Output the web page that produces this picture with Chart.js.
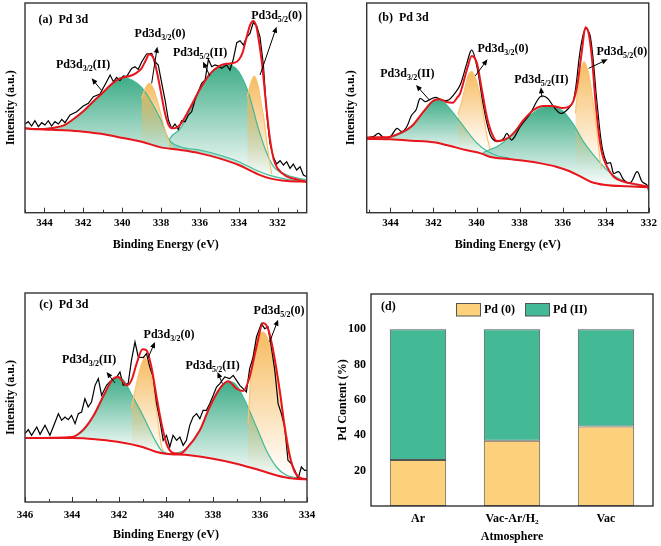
<!DOCTYPE html>
<html>
<head>
<meta charset="utf-8">
<script src="https://cdn.jsdelivr.net/npm/chart.js@4.4.1/dist/chart.umd.min.js"></script>
<style>
  html, body { margin: 0; padding: 0; background: #fff; }
  #wrap { position: relative; width: 661px; height: 546px; overflow: hidden; background: #fff; }
  canvas { position: absolute; }
</style>
</head>
<body>
<div id="wrap">
  <canvas id="chart-a" width="330" height="256" style="left:0;top:0"></canvas>
  <canvas id="chart-b" width="321" height="256" style="left:340px;top:0"></canvas>
  <canvas id="chart-c" width="330" height="276" style="left:0;top:270px"></canvas>
  <canvas id="chart-d" width="331" height="276" style="left:330px;top:270px"></canvas>
</div>
<script>
// ---- panel (a) ----
const aRawE = [345.00,344.83,344.66,344.49,344.31,344.14,343.97,343.80,343.63,343.46,343.28,343.11,342.94,342.68,342.34,342.00,341.74,341.48,341.14,340.80,340.62,340.45,340.28,340.11,339.94,339.77,339.51,339.34,339.17,338.99,338.74,338.48,338.31,338.14,337.96,337.79,337.62,337.45,337.28,337.11,336.94,336.76,336.59,336.42,336.25,336.08,335.91,335.73,335.56,335.39,335.22,335.05,334.88,334.62,334.45,334.28,334.10,333.93,333.76,333.59,333.42,333.25,333.07,332.90,332.73,332.56,332.39,332.22,332.05,331.87,331.70,331.53,331.36,331.19,331.02,330.84,330.67,330.50];
const aRawI = [266,273,260,276,258,270,263,276,260,273,266,280,270,293,303,320,328,348,356,393,413,393,406,396,410,408,433,438,430,453,476,478,453,443,388,338,278,253,266,250,276,273,293,303,338,363,388,398,460,438,443,440,433,443,428,460,510,516,503,526,538,570,560,526,443,298,208,168,146,156,143,153,133,146,128,138,113,108];
const aFitE = [345,344.5,344,343.5,343,342.5,342,341.5,341,340.5,340,339.6,339.3,339.0,338.8,338.6,338.4,338.2,338.0,337.8,337.6,337.4,337.2,337.0,336.5,336.0,335.5,335.0,334.6,334.2,334.0,333.8,333.6,333.4,333.25,333.1,333.0,332.8,332.6,332.4,332.2,332.0,331.5,331.0,330.5];
const aFitI = [253,251,251,255,262,281,304,333,360,388,405,410,418,433,455,475,465,420,360,300,262,253,255,265,315,370,415,440,447,450,458,480,525,565,575,560,530,448,330,225,160,133,108,100,93];
const aBgE = [345,344.3,343,342,341,340.3,339,338,337,336,335,334,333,332.4,331.5,330.5];
const aBgI = [253,250,247,243,236,228,213,196,188,178,163,143,115,103,95,93];
const aG1E = [344.3,343.5,343,342.5,342,341.5,341,340.5,340,339.5,339,338.5,338,337.6,337,336,335,334,333,332.4,331.5,330.5];
const aG1I = [251,255,262,281,304,333,360,388,406,398,376,333,278,220,198,188,173,153,125,112,100,93];
const aG2E = [337.6,337.5,337,336.5,336,335.5,335,334.7,334.4,334,333.5,333,332.6,332.2,331.5,330.5];
const aG2I = [215,226,253,308,368,413,441,446,443,423,360,255,185,138,113,98];
const aO1E = [339.0,338.8,338.6,338.4,338.2,338.0,337.8,337.6,337.45];
const aO1I = [343,374,388,373,338,293,248,215,195];
const aO2E = [333.56,333.4,333.2,333.0,332.85,332.7,332.55,332.4,332.3];
const aO2I = [348,385,410,380,330,280,210,150,115];

// ---- panel (b) ----
const bRawE = [345.10,344.79,344.56,344.32,344.01,343.70,343.47,343.24,343.01,342.81,342.62,342.39,342.15,341.88,341.61,341.30,341.07,340.76,340.45,340.22,339.98,339.67,339.36,339.05,338.74,338.59,338.36,337.97,337.50,337.04,336.73,336.42,336.11,335.80,335.49,335.18,334.94,334.71,334.40,334.17,333.94,333.78,333.63,333.39,333.16,332.85,332.54,332.31,332.08,332.00];
const bRawI = [226,228,238,226,228,253,243,258,293,308,343,333,340,346,338,338,353,383,448,488,438,318,233,213,223,238,218,258,298,348,345,318,298,308,338,488,553,528,328,198,148,150,118,123,98,90,123,93,83,63];
const bFitE = [345.1,344.5,344,343.5,343,342.5,342,341.7,341.4,341.1,340.9,340.76,340.45,340.22,339.98,339.75,339.52,339.29,339.05,338.74,338.28,337.81,337.35,336.88,336.5,336.0,335.7,335.5,335.33,335.1,334.94,334.79,334.63,334.48,334.32,334.17,333.94,333.63,333.16,332.54,332.0];
const bFitI = [225,226,228,240,260,300,336,340,332,330,345,358,428,470,448,368,288,238,215,218,238,278,308,320,320,314,318,335,378,488,556,538,458,338,238,178,138,108,93,85,78];
const bBgE = [345.1,344,343,342,341.4,340.5,339.8,339.4,338.5,337.8,337,336.3,335.7,335.3,334.7,334,333,332];
const bBgI = [221,220,216,211,203,188,178,168,161,156,148,138,125,113,93,83,79,76];
const bG1E = [344.5,344,343.5,343,342.5,342,341.85,341.5,341,340.5,340,339.5,339,338.5];
const bG1I = [223,226,238,258,300,336,341,330,293,250,210,184,170,164];
const bG2E = [339.7,339.5,339,338.5,338,337.5,337,336.6,336,335.5,335,334.5,334,333.5,333,332.5,332];
const bG2I = [180,186,200,225,261,293,314,320,305,265,210,168,132,106,90,82,78];
const bO1E = [340.87,340.7,340.55,340.4,340.22,340.0,339.8,339.6,339.45,339.36];
const bO1I = [293,330,370,410,423,395,340,262,210,190];
const bO2E = [335.41,335.26,335.1,335.0,334.9,334.79,334.56,334.4,334.28,334.2];
const bO2I = [298,388,440,453,440,418,318,238,168,130];

// ---- panel (c) ----
const cRawE = [346.00,345.86,345.72,345.50,345.36,345.15,344.94,344.80,344.58,344.44,344.30,344.16,344.02,343.87,343.73,343.59,343.45,343.31,343.17,343.02,342.88,342.74,342.53,342.32,342.10,341.96,341.82,341.61,341.47,341.32,341.18,340.97,340.83,340.69,340.55,340.40,340.26,340.12,339.98,339.84,339.70,339.55,339.41,339.27,339.13,338.99,338.85,338.70,338.56,338.42,338.28,338.14,337.99,337.85,337.71,337.50,337.29,337.14,337.00,336.86,336.72,336.58,336.44,336.29,336.15,335.94,335.80,335.66,335.52,335.37,335.23,335.09,334.95,334.81,334.67,334.52,334.38,334.24,334.10,334.00];
const cRawI = [205,217,200,225,203,230,200,225,265,245,255,247,260,235,265,270,310,285,300,350,370,320,350,365,375,390,350,355,425,480,435,433,445,405,375,295,245,185,200,165,200,185,195,170,185,230,255,265,250,275,275,295,320,345,355,375,370,380,365,350,340,330,400,435,495,535,520,525,465,395,295,265,225,125,115,95,70,105,95,95];
const cFitE = [346,344,343.52,343.1,342.67,342.25,342.03,341.82,341.68,341.47,341.25,341.0,340.83,340.62,340.4,340.19,339.98,339.7,339.41,339.13,338.56,338.14,337.71,337.36,337.0,336.72,336.44,336.15,335.87,335.66,335.44,335.16,334.95,334.74,334.52,334.31,334.0];
const cFitI = [192,195,217,257,317,370,375,360,350,365,415,458,455,405,315,235,175,147,145,160,215,285,340,362,340,333,375,465,537,520,455,335,225,140,90,73,68];
const cBgE = [346,345,344,343.5,343,342,341,340.4,340,339,338,337,336,335,334.5,334];
const cBgI = [192,192,192,191,188,180,165,150,145,140,130,115,95,75,70,68];
const cG1E = [344.5,344,343.5,343,342.5,342.1,341.8,341.5,341,340.5,340.2,340,339.5];
const cG1I = [192,195,215,268,337,375,365,327,262,190,155,147,143];
const cG2E = [340.12,339.55,339.13,338.56,338.14,337.78,337.36,337.0,336.58,336.15,335.73,335.3,334.88,334.45,334.0];
const cG2I = [145,147,160,215,285,335,362,350,295,225,155,105,80,73,68];
const cO1E = [341.47,341.3,341.1,340.9,340.7,340.5,340.35,340.2,340.1];
const cO1I = [280,340,400,433,400,325,245,170,152];
const cO2E = [336.51,336.37,336.15,335.87,335.59,335.3,335.09,334.88,334.67,334.45];
const cO2I = [235,395,485,510,475,395,295,205,125,80];

// ---- panel (d) ----
const atmospheres = ['Ar', 'Vac-Ar/H\u2082', 'Vac'];
const pd0 = [26, 37, 45];
const pdII = [74, 63, 55];

Chart.defaults.font.family = "'Liberation Serif', 'Times New Roman', serif";
Chart.defaults.font.weight = 'bold';
Chart.defaults.color = '#000';

const SERIF = "'Liberation Serif', 'Times New Roman', serif";
const RED = '#e8161c';
const GREEN = '52,168,128';
const ORANGE = '246,184,88';

function pts(xs, ys) {
  return xs.map((x, i) => ({ x, y: ys[i] }));
}

function peakFill(rgb) {
  return c => {
    const ch = c.chart;
    if (!ch.chartArea) return `rgba(${rgb},0.5)`;
    const ys = ch.data.datasets[c.datasetIndex].data.map(p => p.y);
    const sy = ch.scales.y;
    const g = ch.ctx.createLinearGradient(0, sy.getPixelForValue(Math.max(...ys)), 0, sy.getPixelForValue(Math.min(...ys)));
    g.addColorStop(0, `rgba(${rgb},0.95)`);
    g.addColorStop(1, `rgba(${rgb},0)`);
    return g;
  };
}

function drawLabel(ctx, lb, cx, cy) {
  const big = `bold 12px ${SERIF}`, small = `bold 8px ${SERIF}`;
  ctx.font = big; const w1 = ctx.measureText(lb.main).width;
  const w3 = ctx.measureText(lb.tail).width;
  ctx.font = small; const w2 = ctx.measureText(lb.sub).width;
  let x = cx - (w1 + w2 + w3) / 2;
  const base = cy + 4;
  ctx.textAlign = 'left'; ctx.textBaseline = 'alphabetic';
  ctx.font = big; ctx.fillText(lb.main, x, base); x += w1;
  ctx.font = small; ctx.fillText(lb.sub, x, base + 3); x += w2;
  ctx.font = big; ctx.fillText(lb.tail, x, base);
}

function drawArrow(ctx, x1, y1, x2, y2) {
  const ang = Math.atan2(y2 - y1, x2 - x1);
  ctx.beginPath(); ctx.moveTo(x1, y1);
  ctx.lineTo(x2 - 4 * Math.cos(ang), y2 - 4 * Math.sin(ang)); ctx.stroke();
  ctx.beginPath();
  ctx.moveTo(x2, y2);
  ctx.lineTo(x2 - 6 * Math.cos(ang) + 2.6 * Math.sin(ang), y2 - 6 * Math.sin(ang) - 2.6 * Math.cos(ang));
  ctx.lineTo(x2 - 6 * Math.cos(ang) - 2.6 * Math.sin(ang), y2 - 6 * Math.sin(ang) + 2.6 * Math.cos(ang));
  ctx.closePath(); ctx.fill();
}

// frame, inward ticks, peak labels and arrows
const xpsDecor = {
  id: 'xpsDecor',
  afterDatasetsDraw(chart, args, opts) {
    const { ctx, chartArea: a, scales: { x, y } } = chart;
    ctx.save();
    ctx.strokeStyle = '#333'; ctx.lineWidth = 1;
    for (let v = Math.ceil(x.min); v <= x.max; v++) {
      const px = Math.round(x.getPixelForValue(v)) + 0.5;
      const len = v % 2 === 0 ? 5 : 3;
      ctx.beginPath(); ctx.moveTo(px, a.bottom); ctx.lineTo(px, a.bottom - len); ctx.stroke();
    }
    ctx.lineWidth = 1.4;
    ctx.strokeRect(a.left, a.top, a.width, a.height);

    ctx.fillStyle = '#000';
    ctx.font = `bold 12px ${SERIF}`;
    ctx.textAlign = 'left'; ctx.textBaseline = 'middle';
    ctx.fillText(opts.title, x.getPixelForValue(opts.titleAt[0]), y.getPixelForValue(opts.titleAt[1]));
    opts.labels.forEach(lb => drawLabel(ctx, lb, x.getPixelForValue(lb.x), y.getPixelForValue(lb.y)));
    ctx.strokeStyle = '#000'; ctx.lineWidth = 1;
    opts.arrows.forEach(r => drawArrow(ctx, x.getPixelForValue(r[0]), y.getPixelForValue(r[1]),
      x.getPixelForValue(r[2]), y.getPixelForValue(r[3])));
    ctx.restore();
  }
};

function xpsChart(id, cfg) {
  const peak = (xs, ys, rgb, line) => ({
    data: pts(xs, ys), borderColor: line, borderWidth: 1.2, pointRadius: 0,
    fill: { target: 1 }, backgroundColor: peakFill(rgb), cubicInterpolationMode: 'monotone'
  });
  return new Chart(document.getElementById(id), {
    type: 'line',
    data: {
      datasets: [
        { data: pts(cfg.fit[0], cfg.fit[1]), borderColor: RED, borderWidth: 2, pointRadius: 0, fill: false, cubicInterpolationMode: 'monotone' },
        { data: pts(cfg.bg[0], cfg.bg[1]), borderColor: RED, borderWidth: 2, pointRadius: 0, fill: false, cubicInterpolationMode: 'monotone' },
        { data: pts(cfg.raw[0], cfg.raw[1]), borderColor: '#000', borderWidth: 1.2, pointRadius: 0, fill: false, tension: cfg.rawTension },
        peak(cfg.o1[0], cfg.o1[1], ORANGE, 'rgb(250,196,112)'),
        peak(cfg.o2[0], cfg.o2[1], ORANGE, 'rgb(250,196,112)'),
        peak(cfg.g1[0], cfg.g1[1], GREEN, 'rgb(64,186,152)'),
        peak(cfg.g2[0], cfg.g2[1], GREEN, 'rgb(64,186,152)')
      ]
    },
    options: {
      responsive: false,
      animation: false,
      parsing: false,
      layout: { padding: { top: cfg.top, right: cfg.right, left: 0, bottom: 0 } },
      scales: {
        x: {
          type: 'linear', reverse: true, min: cfg.xMin, max: cfg.xMax,
          grid: { display: false, drawTicks: false }, border: { display: false },
          ticks: { stepSize: 2, includeBounds: false, padding: cfg.tickPad, maxRotation: 0, autoSkip: false,
                   font: { size: 11, weight: 'bold' }, color: '#000' },
          title: { display: true, text: 'Binding Energy (eV)', font: { size: 12, weight: 'bold' }, color: '#000',
                   padding: { top: 0, bottom: 4 } },
          afterFit: s => { s.height = cfg.axisH; }
        },
        y: {
          min: 0, max: cfg.yMax,
          grid: { display: false, drawTicks: false }, border: { display: false },
          ticks: { display: false },
          title: { display: true, text: 'Intensity (a.u.)', font: { size: 12, weight: 'bold' }, color: '#000',
                   padding: { top: 4, bottom: 0 } },
          afterFit: s => { s.width = cfg.axisW; }
        }
      },
      plugins: {
        legend: { display: false },
        tooltip: { enabled: false },
        filler: { drawTime: 'beforeDatasetsDraw' },
        xpsDecor: cfg.decor
      }
    },
    plugins: [xpsDecor]
  });
}

const lab = (sub, tail, x, y) => ({ main: 'Pd3d', sub, tail, x, y });

xpsChart('chart-a', {
  raw: [aRawE, aRawI], fit: [aFitE, aFitI], bg: [aBgE, aBgI],
  g1: [aG1E, aG1I], g2: [aG2E, aG2I], o1: [aO1E, aO1I], o2: [aO2E, aO2I],
  xMin: 330.5, xMax: 345, yMax: 629, rawTension: 0,
  top: 3, right: 23.3, axisW: 25, axisH: 43.3, tickPad: 4,
  decor: {
    title: '(a)  Pd 3d', titleAt: [344.31, 578],
    labels: [lab('3/2', '(II)', 342.01, 446), lab('3/2', '(0)', 338.05, 538),
             lab('5/2', '(II)', 335.99, 483), lab('5/2', '(0)', 332.05, 593)],
    arrows: [[341.05, 366, 341.57, 403], [338.48, 388, 338.19, 498],
             [335.48, 410, 335.84, 453], [332.90, 413, 332.05, 558]]
  }
});

xpsChart('chart-b', {
  raw: [bRawE, bRawI], fit: [bFitE, bFitI], bg: [bBgE, bBgI],
  g1: [bG1E, bG1I], g2: [bG2E, bG2I], o1: [bO1E, bO1I], o2: [bO2E, bO2I],
  xMin: 332, xMax: 345.1, yMax: 629, rawTension: 0.35,
  top: 3, right: 11.7, axisW: 26.7, axisH: 43.3, tickPad: 4,
  decor: {
    title: '(b)  Pd 3d', titleAt: [344.56, 583],
    labels: [lab('3/2', '(II)', 343.21, 420), lab('3/2', '(0)', 338.77, 493),
             lab('5/2', '(II)', 336.99, 400), lab('5/2', '(0)', 333.25, 486)],
    arrows: [[342.19, 338, 342.81, 383], [340.06, 410, 339.49, 460],
             [336.96, 346, 337.01, 376], [334.79, 433, 333.91, 460]]
  }
});

xpsChart('chart-c', {
  raw: [cRawE, cRawI], fit: [cFitE, cFitI], bg: [cBgE, cBgI],
  g1: [cG1E, cG1I], g2: [cG2E, cG2I], o1: [cO1E, cO1I], o2: [cO2E, cO2I],
  xMin: 334, xMax: 346, yMax: 627, rawTension: 0,
  top: 23, right: 23, axisW: 25, axisH: 44, tickPad: 6.5,
  decor: {
    title: '(c)  Pd 3d', titleAt: [345.39, 590],
    labels: [lab('3/2', '(II)', 343.27, 430), lab('3/2', '(0)', 339.87, 505),
             lab('5/2', '(II)', 338.02, 412), lab('5/2', '(0)', 335.19, 575)],
    arrows: [[342.17, 357, 342.53, 390], [340.76, 433, 340.47, 480],
             [337.6, 355, 337.81, 390], [335.59, 480, 335.23, 547]]
  }
});

// frame, legend and panel tag for the bar chart
const barDecor = {
  id: 'barDecor',
  afterDatasetsDraw(chart) {
    const { ctx, chartArea: a } = chart;
    ctx.save();
    ctx.strokeStyle = '#333'; ctx.lineWidth = 1.4;
    ctx.strokeRect(a.left, a.top, a.width, a.height);
    ctx.fillStyle = '#000';
    ctx.font = `bold 12px ${SERIF}`;
    ctx.textBaseline = 'middle'; ctx.textAlign = 'left';
    ctx.fillText('(d)', a.left + 10, a.top + 13);
    let x = a.left + 85;
    chart.data.datasets.forEach(ds => {
      ctx.fillStyle = ds.backgroundColor;
      ctx.fillRect(x, a.top + 9.5, 24.5, 12.5);
      ctx.strokeStyle = '#555'; ctx.lineWidth = 1;
      ctx.strokeRect(x + 0.5, a.top + 9.5, 24, 12.5);
      ctx.fillStyle = '#000';
      ctx.fillText(ds.label, x + 28, a.top + 16);
      x += 28 + ctx.measureText(ds.label).width + 10;
    });
    ctx.restore();
  }
};

new Chart(document.getElementById('chart-d'), {
  type: 'bar',
  data: {
    labels: atmospheres,
    datasets: [
      { label: 'Pd (0)', data: pd0, backgroundColor: '#fdd17c', borderColor: '#555', borderWidth: 1, borderSkipped: false },
      { label: 'Pd (II)', data: pdII, backgroundColor: '#44b996', borderColor: '#555', borderWidth: 1, borderSkipped: false }
    ]
  },
  options: {
    responsive: false,
    animation: false,
    layout: { padding: { top: 24, right: 8, left: 0, bottom: 0 } },
    datasets: { bar: { barPercentage: 0.6, categoryPercentage: 1 } },
    scales: {
      x: {
        stacked: true,
        grid: { display: false, drawTicks: false }, border: { display: false },
        ticks: { padding: 6, font: { size: 12, weight: 'bold' }, color: '#000' },
        title: { display: true, text: 'Atmosphere', font: { size: 12, weight: 'bold' }, color: '#000',
                 padding: { top: 0, bottom: 2 } },
        afterFit: s => { s.height = 40; }
      },
      y: {
        stacked: true, min: 0, max: 120,
        grid: { display: false, drawTicks: false }, border: { display: false },
        ticks: { stepSize: 20, padding: 5, font: { size: 12, weight: 'bold' }, color: '#000',
                 callback: v => (v === 0 || v === 120) ? '' : v },
        title: { display: true, text: 'Pd Content (%)', font: { size: 12, weight: 'bold' }, color: '#000',
                 padding: { top: 5.5, bottom: 0 } },
        afterFit: s => { s.width = 41; }
      }
    },
    plugins: { legend: { display: false }, tooltip: { enabled: false } }
  },
  plugins: [barDecor]
});
</script>
</body>
</html>
